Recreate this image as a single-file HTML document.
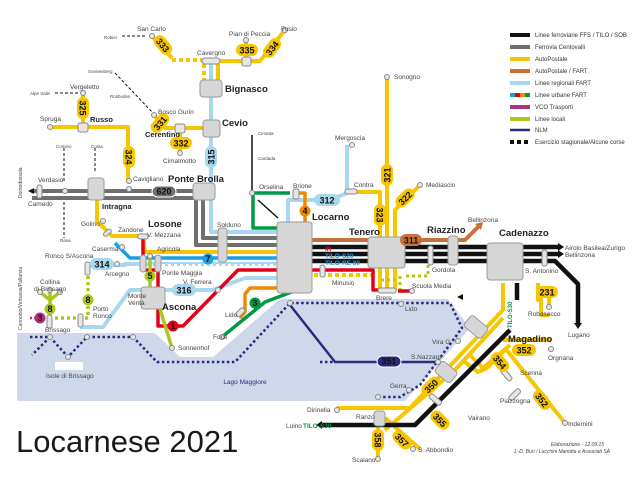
<!DOCTYPE html>
<html><head><meta charset="utf-8"><style>
html,body{margin:0;padding:0;background:#fff;width:640px;height:480px;overflow:hidden}
svg{display:block;font-family:"Liberation Sans",sans-serif}
.s{fill:#e6e6e6;stroke:#8a8a8a;stroke-width:1}
.b{fill:#d6d6d6;stroke:#9a9a9a;stroke-width:1}
.t{font-size:6.5px;fill:#444}
.bt{font-size:9.5px;fill:#222;font-weight:bold}
.bd{font-size:9px;font-weight:bold;fill:#111;text-anchor:middle}
.lg{font-size:6px;fill:#333}
</style></head><body>
<svg width="640" height="480" viewBox="0 0 640 480" xmlns="http://www.w3.org/2000/svg">
<polygon points="17,333 155,333 180,357 213,357 280,299 448,299 470,328 405,401 17,401" fill="#cfd7ea"/>
<rect x="55" y="362" width="28" height="8" fill="#fff"/>
<text x="245" y="384" font-size="6.5" fill="#2b2a7e" text-anchor="middle">Lago Maggiore</text>

<g fill="none" stroke-linejoin="round" stroke-linecap="butt">
<path d="M30,337 H50 L68,357 L87,337 H133 L157,362 H235 L290,303 H450 L462,328 L420,385 L400,397 H378" stroke="#2b2a7e" stroke-width="2.5" stroke-dasharray="2.5,2.5"/>
<path d="M50,337 L32,355" stroke="#2b2a7e" stroke-width="2.5" stroke-dasharray="2.5,2.5"/>
<path d="M290,305 L335,362 H438" stroke="#2b2a7e" stroke-width="2.5"/>
<path d="M320,362 H335" stroke="#2b2a7e" stroke-width="2.5" stroke-dasharray="2.5,2.5"/>
<path d="M32,191 H203 V238 H280" stroke="#6f6f6f" stroke-width="4"/>
<path d="M32,198 H196 V245 H280" stroke="#6f6f6f" stroke-width="4"/>
<path d="M211,62 V232 H280" stroke="#a8d8f0" stroke-width="4"/>
<path d="M288,222 V200 H330 L347,193 V145" stroke="#a8d8f0" stroke-width="4"/>
<path d="M80,327 H103 L130,290 H213 L245,278 H300" stroke="#a8d8f0" stroke-width="4"/>
<path d="M88,265 H125 V264 H280" stroke="#a8d8f0" stroke-width="4"/>
<path d="M150,265 H280" stroke="#fff" stroke-width="2" stroke-dasharray="3,3"/>
<path d="M97,182 V221 L112,236 H143 L145,252 H300" stroke="#f7c600" stroke-width="4"/>
<path d="M50,127 H128 V180" stroke="#f7c600" stroke-width="4"/>
<path d="M83,93 V127" stroke="#f7c600" stroke-width="4"/>
<path d="M154,115 L165,128 H210" stroke="#f7c600" stroke-width="4"/>
<path d="M180,128 V153" stroke="#f7c600" stroke-width="4"/>
<path d="M152,36 L172,58" stroke="#f7c600" stroke-width="4"/>
<path d="M172,60 H202" stroke="#f7c600" stroke-width="4" stroke-dasharray="4,3"/>
<path d="M202,61 H260 L285,30" stroke="#f7c600" stroke-width="4"/>
<path d="M246,40 V60" stroke="#f7c600" stroke-width="4"/>
<path d="M204,64 V82" stroke="#f7c600" stroke-width="4" stroke-dasharray="4,3"/>
<path d="M218,64 V82" stroke="#f7c600" stroke-width="4"/>
<path d="M300,275 H372" stroke="#f7c600" stroke-width="4" stroke-dasharray="4,3"/>
<path d="M380,290 V192 H352" stroke="#f7c600" stroke-width="4"/>
<path d="M387,290 V77" stroke="#f7c600" stroke-width="4"/>
<path d="M395,290 V210 L420,185" stroke="#f7c600" stroke-width="4"/>
<path d="M503,283 V310 L410,408 H337" stroke="#f7c600" stroke-width="4"/>
<path d="M503,318 L455,370 L385,430" stroke="#f7c600" stroke-width="4"/>
<path d="M462,360 L478,372 L487,368 L505,350 M470,355 L483,368 L510,345 M503,340 H551 M505,348 L565,423" stroke="#f7c600" stroke-width="4"/>
<path d="M378,412 V459 M385,418 L420,449" stroke="#f7c600" stroke-width="4"/>
<path d="M538,283 V300 H541 V315 H549" stroke="#f7c600" stroke-width="4"/>
<path d="M549,291 V307" stroke="#f7c600" stroke-width="4"/>
<path d="M406,276 H428 V262 M381,280 H395" stroke="#a8c91c" stroke-width="3" stroke-dasharray="3,3"/>
<path d="M400,291 V276" stroke="#a8c91c" stroke-width="3" stroke-dasharray="3,3"/>
<path d="M312,240 H465 L480,225" stroke="#c8703a" stroke-width="4"/>
<path d="M312,247 H558 M312,254 H558 M312,261 H555 L578,284 V323" stroke="#111" stroke-width="4.5"/>
<path d="M517,283 V300" stroke="#111" stroke-width="4.5"/>
<path d="M510,330 L415,425 H322" stroke="#111" stroke-width="4.5"/>
<path d="M252,135 V190" stroke="#111" stroke-width="1.5"/>
<path d="M258,200 L278,218" stroke="#111" stroke-width="1.5"/>
<path d="M115,73 L152,112 M122,36 H145 M55,93 H80 M64,148 V182 M95,148 V172 M64,202 V238" stroke="#111" stroke-width="1" stroke-dasharray="3,2"/>
<path d="M143,237 V270 H158 V326 H183 L238,270 H373 V290 H385" stroke="#e3001b" stroke-width="3.5"/>
<path d="M398,291 H412" stroke="#e3001b" stroke-width="3.5"/>
<path d="M115,243 L130,258 H300" stroke="#1a9ee0" stroke-width="3.5"/>
<path d="M253,193 V228 H297 V290 L265,302 L222,337" stroke="#009a44" stroke-width="3.5"/>
<path d="M253,193 H290" stroke="#009a44" stroke-width="3.5"/>
<path d="M297,193 H305 V288 H250 L245,294 V312 L240,318" stroke="#f08a00" stroke-width="3.5"/>
<path d="M150,256 V290 M160,309 L172,348" stroke="#a8c91c" stroke-width="3.5"/>
<path d="M88,270 V318 H48" stroke="#a8c91c" stroke-width="3.5" stroke-dasharray="3,3"/>
<path d="M50,318 V300 L40,292 M50,300 L60,292 M50,300 V290" stroke="#a8c91c" stroke-width="3.5"/>
<path d="M40,318 H30" stroke="#b0307a" stroke-width="2.5" stroke-dasharray="2,2"/>
</g>

<rect class="b" x="200" y="80" width="22" height="17" rx="3"/>
<rect class="b" x="203" y="120" width="17" height="17" rx="3"/>
<rect class="b" x="88" y="178" width="16" height="22" rx="3"/>
<rect class="b" x="193" y="183" width="22" height="17" rx="3"/>
<rect class="b" x="277" y="222" width="35" height="71" rx="3"/>
<rect class="b" x="368" y="237" width="37" height="31" rx="3"/>
<rect class="b" x="448" y="236" width="10" height="29" rx="3"/>
<rect class="b" x="487" y="243" width="36" height="37" rx="3"/>
<rect class="b" x="141" y="287" width="24" height="22" rx="3"/>
<rect class="b" x="218" y="228" width="9" height="34" rx="3"/>
<rect class="b" x="140" y="255" width="6" height="17" rx="3"/>
<rect class="b" x="155" y="255" width="6" height="17" rx="3"/>
<rect class="b" x="374" y="411" width="11" height="15" rx="3"/>
<rect class="b" x="465" y="320" width="22" height="14" rx="3" transform="rotate(40 476 327)"/>
<rect class="b" x="436" y="365" width="20" height="14" rx="3" transform="rotate(40 446 372)"/>
<rect class="s" x="202" y="58" width="18" height="6" rx="3"/>
<rect class="s" x="242" y="57" width="9" height="9" rx="2"/>
<rect class="s" x="78" y="123" width="10" height="9" rx="2"/>
<rect class="s" x="175" y="124" width="10" height="9" rx="2"/>
<rect class="s" x="37" y="185" width="5" height="13" rx="2"/>
<rect class="s" x="293" y="189" width="6" height="10" rx="2"/>
<rect class="s" x="345" y="189" width="12" height="5" rx="2"/>
<rect class="s" x="138" y="234" width="10" height="5" rx="2"/>
<rect class="s" x="378" y="288" width="18" height="5" rx="2"/>
<rect class="s" x="428" y="246" width="5" height="19" rx="2"/>
<rect class="s" x="542" y="250" width="5" height="16" rx="2"/>
<rect class="s" x="320" y="265" width="5" height="12" rx="2"/>
<rect class="s" x="85" y="262" width="5" height="13" rx="2"/>
<rect class="s" x="47" y="315" width="5" height="13" rx="2"/>
<rect class="s" x="78" y="314" width="5" height="13" rx="2"/>
<rect class="s" x="103" y="231" width="9" height="4" rx="2" transform="rotate(-40 107 233)"/>
<rect class="s" x="235" y="310" width="10" height="5" rx="2" transform="rotate(-45 240 312)"/>
<rect class="s" x="428" y="397" width="14" height="5" rx="2" transform="rotate(40 435 400)"/>
<rect class="s" x="508" y="392" width="14" height="5" rx="2" transform="rotate(-45 515 395)"/>
<rect class="s" x="499" y="372" width="14" height="5" rx="2" transform="rotate(50 506 375)"/>

<g class="s">
<circle cx="152" cy="36" r="2.5"/><circle cx="246" cy="40" r="2.5"/><circle cx="285" cy="30" r="2.5"/>
<circle cx="83" cy="93" r="2.5"/><circle cx="50" cy="127" r="2.5"/><circle cx="154" cy="115" r="2.5"/>
<circle cx="180" cy="153" r="2.5"/><circle cx="129" cy="181" r="2.5"/><circle cx="129" cy="189" r="2.5"/>
<circle cx="65" cy="191" r="2.5"/><circle cx="103" cy="221" r="2.5"/><circle cx="122" cy="247" r="2.5"/>
<circle cx="117" cy="264" r="2.5"/><circle cx="252" cy="193" r="2.5"/><circle cx="352" cy="145" r="2.5"/>
<circle cx="387" cy="77" r="2.5"/><circle cx="420" cy="185" r="2.5"/><circle cx="412" cy="291" r="2.5"/>
<circle cx="150" cy="256" r="2.5"/><circle cx="172" cy="348" r="2.5"/><circle cx="218" cy="290" r="2.5"/>
<circle cx="222" cy="337" r="2.5"/><circle cx="50" cy="337" r="2.5"/><circle cx="87" cy="337" r="2.5"/>
<circle cx="133" cy="337" r="2.5"/><circle cx="68" cy="357" r="2.5"/><circle cx="290" cy="303" r="2.5"/>
<circle cx="401" cy="304" r="2.5"/><circle cx="458" cy="341" r="2.5"/><circle cx="438" cy="362" r="2.5"/>
<circle cx="409" cy="390" r="2.5"/><circle cx="378" cy="397" r="2.5"/><circle cx="337" cy="410" r="2.5"/>
<circle cx="551" cy="349" r="2.5"/><circle cx="565" cy="423" r="2.5"/><circle cx="378" cy="459" r="2.5"/>
<circle cx="413" cy="449" r="2.5"/><circle cx="549" cy="307" r="2.5"/><circle cx="40" cy="292" r="2.5"/>
<circle cx="50" cy="290" r="2.5"/><circle cx="60" cy="292" r="2.5"/>
</g>

<g>
<rect x="236" y="44" width="22" height="12" rx="6" fill="#f7c600"/><text class="bd" x="247" y="53.5">335</text>
<g transform="rotate(-52 272 48)"><rect x="261" y="42" width="22" height="12" rx="6" fill="#f7c600"/><text class="bd" x="272" y="51.5">334</text></g>
<g transform="rotate(50 163 45)"><rect x="152" y="39" width="22" height="12" rx="6" fill="#f7c600"/><text class="bd" x="163" y="48.5">333</text></g>
<g transform="rotate(90 83 108)"><rect x="72" y="102" width="22" height="12" rx="6" fill="#f7c600"/><text class="bd" x="83" y="111.5">325</text></g>
<g transform="rotate(-50 160 123)"><rect x="149" y="117" width="22" height="12" rx="6" fill="#f7c600"/><text class="bd" x="160" y="126.5">331</text></g>
<rect x="170" y="137" width="22" height="12" rx="6" fill="#f7c600"/><text class="bd" x="181" y="146.5">332</text>
<g transform="rotate(90 129 157)"><rect x="118" y="151" width="22" height="12" rx="6" fill="#f7c600"/><text class="bd" x="129" y="160.5">324</text></g>
<g transform="rotate(-90 211 157)"><rect x="200" y="151" width="22" height="12" rx="6" fill="#a8d8f0"/><text class="bd" x="211" y="160.5">315</text></g>
<g transform="rotate(90 380 215)"><rect x="369" y="209" width="22" height="12" rx="6" fill="#f7c600"/><text class="bd" x="380" y="218.5">323</text></g>
<g transform="rotate(-90 387 175)"><rect x="376" y="169" width="22" height="12" rx="6" fill="#f7c600"/><text class="bd" x="387" y="178.5">321</text></g>
<g transform="rotate(-45 405 198)"><rect x="394" y="192" width="22" height="12" rx="6" fill="#f7c600"/><text class="bd" x="405" y="201.5">322</text></g>
<rect x="314" y="194" width="26" height="12" rx="6" fill="#a8d8f0"/><text class="bd" x="327" y="203.5">312</text>
<rect x="90" y="258" width="24" height="12" rx="6" fill="#a8d8f0"/><text class="bd" x="102" y="267.5">314</text>
<rect x="172" y="284" width="24" height="12" rx="6" fill="#a8d8f0"/><text class="bd" x="184" y="293.5">316</text>
<rect x="400" y="234" width="22" height="12" rx="6" fill="#c8703a"/><text class="bd" x="411" y="243.5" fill="#fff">311</text>
<rect x="152" y="186" width="24" height="11" rx="5.5" fill="#6f6f6f" stroke="#fff"/><text class="bd" x="164" y="194.5" fill="#fff">620</text>
<rect x="536" y="286" width="22" height="12" rx="6" fill="#f7c600"/><text class="bd" x="547" y="295.5">231</text>
<rect x="512" y="344" width="24" height="12" rx="6" fill="#f7c600"/><text class="bd" x="524" y="353.5">352</text>
<g transform="rotate(50 500 362)"><rect x="489" y="356" width="22" height="12" rx="6" fill="#f7c600"/><text class="bd" x="500" y="365.5">354</text></g>
<g transform="rotate(52 542 400)"><rect x="531" y="394" width="22" height="12" rx="6" fill="#f7c600"/><text class="bd" x="542" y="403.5">352</text></g>
<g transform="rotate(-45 431 386)"><rect x="420" y="380" width="22" height="12" rx="6" fill="#f7c600"/><text class="bd" x="431" y="389.5">350</text></g>
<g transform="rotate(45 440 420)"><rect x="429" y="414" width="22" height="12" rx="6" fill="#f7c600"/><text class="bd" x="440" y="423.5">355</text></g>
<g transform="rotate(90 378 440)"><rect x="367" y="434" width="22" height="12" rx="6" fill="#f7c600"/><text class="bd" x="378" y="443.5">358</text></g>
<g transform="rotate(45 402 440)"><rect x="391" y="434" width="22" height="12" rx="6" fill="#f7c600"/><text class="bd" x="402" y="443.5">357</text></g>
<rect x="377" y="356" width="24" height="11" rx="5.5" fill="#2b2a7e" stroke="#fff"/><text class="bd" x="389" y="364.5" fill="#fff">351</text>
<circle cx="208" cy="259" r="5.5" fill="#1a9ee0"/><text class="bd" x="208" y="262" font-size="8" fill="#fff">7</text>
<circle cx="173" cy="326" r="5.5" fill="#e3001b"/><text class="bd" x="173" y="329" font-size="8" fill="#fff">1</text>
<circle cx="255" cy="303" r="5.5" fill="#009a44"/><text class="bd" x="255" y="306" font-size="8" fill="#fff">3</text>
<circle cx="305" cy="211" r="5.5" fill="#f08a00"/><text class="bd" x="305" y="214" font-size="8" fill="#fff">4</text>
<circle cx="150" cy="276" r="5.5" fill="#a8c91c"/><text class="bd" x="150" y="279" font-size="8" fill="#fff">5</text>
<circle cx="88" cy="300" r="5.5" fill="#a8c91c"/><text class="bd" x="88" y="303" font-size="8" fill="#fff">8</text>
<circle cx="50" cy="309" r="5.5" fill="#a8c91c"/><text class="bd" x="50" y="312" font-size="8" fill="#fff">8</text>
<circle cx="40" cy="318" r="5.5" fill="#b0307a"/><text class="bd" x="40" y="321" font-size="8" fill="#fff">3</text>
</g>
<polygon points="558,243 564,247 558,251" fill="#111"/><polygon points="558,250 564,254 558,258" fill="#111"/>
<polygon points="574,323 582,323 578,329" fill="#111"/><polygon points="322,421 316,425 322,429" fill="#111"/>
<polygon points="28,191 34,188 34,194" fill="#111"/><polygon points="475,224 483,222 481,230" fill="#c8703a"/>
<polygon points="463,294 457,297 463,300" fill="#111"/>

<g class="t">
<text x="137" y="31">San Carlo</text><text x="104" y="39" font-size="4.5">Robiei</text>
<text x="197" y="55">Cavergno</text><text x="229" y="36">Pian di Peccia</text><text x="281" y="31">Fusio</text>
<text x="70" y="89">Vergeletto</text><text x="30" y="95" font-size="4.5">Alpe Salei</text><text x="40" y="121">Spruga</text>
<text x="88" y="73" font-size="4.5">Sonnenberg</text><text x="110" y="98" font-size="4.5">Rosboden</text>
<text x="158" y="114">Bosco Gurin</text><text x="163" y="163">Cimalmotto</text>
<text x="133" y="181">Cavigliano</text><text x="38" y="182">Verdasio</text><text x="28" y="206">Camedo</text>
<text x="56" y="148" font-size="4.5">Comino</text><text x="91" y="148" font-size="4.5">Costa</text>
<text x="60" y="242" font-size="4.5">Rasa</text><text x="81" y="226">Golino</text><text x="118" y="232">Zandone</text>
<text x="147" y="237">V. Mezzana</text><text x="92" y="251">Caserma</text><text x="157" y="251">Agricola</text>
<text x="45" y="258">Ronco S/Ascona</text><text x="105" y="276">Arcegno</text><text x="162" y="275">Ponte Maggia</text>
<text x="217" y="227">Solduno</text><text x="259" y="189">Orselina</text><text x="293" y="188">Brione</text>
<text x="258" y="135" font-size="4.5">Cimetta</text><text x="258" y="160" font-size="4.5">Cardada</text>
<text x="335" y="140">Mergoscia</text><text x="354" y="187">Contra</text><text x="394" y="79">Sonogno</text>
<text x="426" y="187">Mediascio</text><text x="468" y="222">Bellinzona</text>
<text x="565" y="250">Airolo Basilea/Zurigo</text><text x="565" y="257">Bellinzona</text>
<text x="332" y="285">Minusio</text><text x="432" y="272">Gordola</text>
<text x="412" y="288">Scuola Media</text><text x="376" y="300">Brere</text><text x="405" y="311">Lido</text>
<text x="525" y="273">S. Antonino</text><text x="528" y="316">Robasacco</text><text x="568" y="337">Lugano</text>
<text x="548" y="360">Orgnana</text><text x="520" y="375">Scenna</text><text x="500" y="403">Piazzogna</text>
<text x="568" y="426">Indemini</text><text x="468" y="420">Vairano</text><text x="432" y="344">Vira G.</text>
<text x="411" y="359">S.Nazzaro</text><text x="390" y="388">Gerra</text><text x="307" y="412">Dirinella</text>
<text x="356" y="419">Ranzo</text><text x="352" y="462">Scaiano</text><text x="418" y="452">S. Abbondio</text>
<text x="286" y="428">Luino</text>
<text x="183" y="284">V. Ferrera</text><text x="128" y="298">Monte</text><text x="128" y="305">Verità</text>
<text x="178" y="350">Sonnenhof</text><text x="213" y="339">Foce</text><text x="225" y="317">Lido</text>
<text x="93" y="311">Porto</text><text x="93" y="318">Ronco</text><text x="45" y="332">Brissago</text>
<text x="40" y="284">Collina</text><text x="34" y="291">di Brissago</text><text x="46" y="378">Isole di Brissago</text>
<text x="22" y="198" font-size="5" transform="rotate(-90 22 198)">Domodossola</text>
<text x="22" y="330" font-size="5" transform="rotate(-90 22 330)">Cannobio/Verbania/Pallanza</text>
</g>
<g class="bt">
<text x="225" y="92">Bignasco</text><text x="222" y="126">Cevio</text><text x="145" y="137" font-size="7.5">Cerentino</text>
<text x="90" y="122" font-size="7.5">Russo</text><text x="102" y="209" font-size="7.5">Intragna</text>
<text x="168" y="182">Ponte Brolla</text><text x="148" y="227">Losone</text><text x="312" y="220">Locarno</text>
<text x="162" y="310">Ascona</text><text x="349" y="235">Tenero</text><text x="427" y="233">Riazzino</text>
<text x="499" y="236">Cadenazzo</text><text x="508" y="342">Magadino</text>
</g>
<text x="325" y="251" font-size="6.5" font-weight="bold" fill="#e3001b">IR</text>
<text x="325" y="258" font-size="6.5" font-weight="bold" fill="#1a9ee0">TILO-S20</text>
<text x="325" y="265" font-size="6.5" font-weight="bold" fill="#1a9ee0">TILO-RE 80</text>
<text x="303" y="428" font-size="6.5" font-weight="bold" fill="#009a44">TILO-S30</text>
<text x="512" y="328" font-size="6" font-weight="bold" fill="#009a44" transform="rotate(-90 512 328)">TILO-S30</text>

<g stroke-width="4">
<line x1="510" y1="35" x2="530" y2="35" stroke="#111"/>
<line x1="510" y1="47" x2="530" y2="47" stroke="#6f6f6f"/>
<line x1="510" y1="59" x2="530" y2="59" stroke="#f7c600"/>
<line x1="510" y1="71" x2="530" y2="71" stroke="#c8703a"/>
<line x1="510" y1="83" x2="530" y2="83" stroke="#a8d8f0"/>
<line x1="510" y1="95" x2="515" y2="95" stroke="#1a9ee0"/><line x1="515" y1="95" x2="520" y2="95" stroke="#e3001b"/><line x1="520" y1="95" x2="525" y2="95" stroke="#f08a00"/><line x1="525" y1="95" x2="530" y2="95" stroke="#009a44"/>
<line x1="510" y1="107" x2="530" y2="107" stroke="#b0307a"/>
<line x1="510" y1="119" x2="530" y2="119" stroke="#a8c91c"/>
<line x1="510" y1="130" x2="530" y2="130" stroke="#2b2a7e" stroke-width="2.5"/>
<line x1="510" y1="142" x2="530" y2="142" stroke="#111" stroke-dasharray="4,3"/>
</g>
<g class="lg">
<text x="535" y="37">Linee ferroviarie FFS / TILO / SOB</text>
<text x="535" y="49">Ferrovia Centovalli</text>
<text x="535" y="61">AutoPostale</text>
<text x="535" y="73">AutoPostale / FART</text>
<text x="535" y="85">Linee regionali FART</text>
<text x="535" y="97">Linee urbane FART</text>
<text x="535" y="109">VCO Trasporti</text>
<text x="535" y="121">Linee locali</text>
<text x="535" y="132">NLM</text>
<text x="535" y="144">Esercizio stagionale/Alcune corse</text>
</g>
<text x="604" y="446" font-size="5" fill="#444" font-style="italic" text-anchor="end">Elaborazione - 12.09.15</text>
<text x="610" y="453" font-size="5" fill="#444" font-style="italic" text-anchor="end">J.-D. Buri / Lucchini Mariotta e Associati SA</text>
<text x="16" y="452" font-size="31" fill="#1a1a1a">Locarnese 2021</text>
</svg>
</body></html>
